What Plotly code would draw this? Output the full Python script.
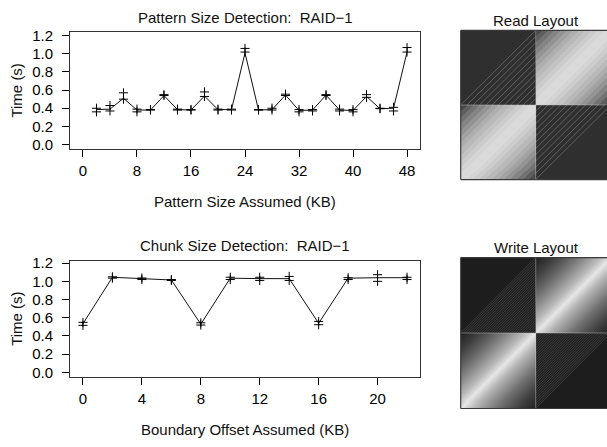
import numpy as np
import plotly.graph_objects as go

# ---------------- line-chart data ----------------
# Pattern size detection, RAID-1: two timed trials and the summary line
pattern_kb = [2, 4, 6, 8, 10, 12, 14, 16, 18, 20, 22, 24,
              26, 28, 30, 32, 34, 36, 38, 40, 42, 44, 46, 48]
pattern_trial_a = [0.40, 0.43, 0.57, 0.39, 0.385, 0.55, 0.39, 0.385, 0.58, 0.39, 0.39, 1.06,
                   0.385, 0.40, 0.555, 0.385, 0.385, 0.55, 0.39, 0.385, 0.55, 0.40, 0.41, 1.07]
pattern_trial_b = [0.36, 0.37, 0.50, 0.36, 0.38, 0.54, 0.38, 0.38, 0.53, 0.38, 0.38, 1.02,
                   0.38, 0.38, 0.54, 0.36, 0.37, 0.54, 0.37, 0.36, 0.52, 0.395, 0.37, 1.02]
pattern_line = [0.385, 0.39, 0.51, 0.38, 0.38, 0.54, 0.385, 0.38, 0.535, 0.385, 0.385, 1.01,
                0.38, 0.385, 0.545, 0.375, 0.38, 0.545, 0.38, 0.375, 0.53, 0.395, 0.40, 1.02]
pattern_ticks = [0, 8, 16, 24, 32, 40, 48]

# Chunk size detection, RAID-1
chunk_kb = [0, 2, 4, 6, 8, 10, 12, 14, 16, 18, 20, 22]
chunk_trial_a = [0.55, 1.05, 1.037, 1.02, 0.545, 1.045, 1.045, 1.054, 0.56, 1.04, 1.073, 1.045]
chunk_trial_b = [0.517, 1.035, 1.02, 1.01, 0.52, 1.02, 1.01, 1.01, 0.524, 1.02, 1.00, 1.02]
chunk_line = [0.535, 1.045, 1.03, 1.015, 0.53, 1.035, 1.03, 1.03, 0.54, 1.035, 1.04, 1.04]
chunk_ticks = [0, 4, 8, 12, 16, 20]

time_ticks = [0.0, 0.2, 0.4, 0.6, 0.8, 1.0, 1.2]

# ---------------- layout-map data ----------------
# Grey level of each distance band away from the diagonal (read layout)
read_levels = [218, 212, 204, 195, 185, 174, 162, 148, 132, 114, 94, 74]
read_background = 47
# Grey level against distance from the diagonal (write layout, smooth)
write_dist = [0.0, 0.05, 0.15, 0.30, 0.45, 0.60, 0.75, 0.90, 1.0]
write_grey = [230, 215, 185, 150, 118, 90, 64, 44, 32]
write_background = 29
# Faint band edges seen in the cross-disk triangles
read_hatch = [k / 12 for k in range(1, 13)]
write_hatch = [k / 30 for k in range(1, 31)]

W, H = 607, 447
FONT = "Liberation Sans, Arial, Helvetica, sans-serif"


def px_x(p):
    return p / W


def px_y(p):
    return 1 - p / H


fig = go.Figure()

# ---- line charts ----
def add_trials(x, a, b, line, xa, ya):
    fig.add_trace(go.Scatter(x=x, y=line, mode="lines", xaxis=xa, yaxis=ya,
                             line=dict(color="#111", width=1), showlegend=False,
                             hoverinfo="skip"))
    for t in (a, b):
        fig.add_trace(go.Scatter(x=x, y=t, mode="markers", xaxis=xa, yaxis=ya,
                                 marker=dict(symbol="cross-thin", size=6.5,
                                             line=dict(color="#000", width=1)),
                                 showlegend=False))


add_trials(pattern_kb, pattern_trial_a, pattern_trial_b, pattern_line, "x", "y")
add_trials(chunk_kb, chunk_trial_a, chunk_trial_b, chunk_line, "x2", "y2")

# ---- layout heat maps ----
N = 150
centres = (np.arange(N) + 0.5) / (N / 2)          # 0..2, one unit per disk half
U, V = np.meshgrid(centres, centres)
same_half = (U < 1) == (V < 1)
dist = np.where(same_half, np.abs(U - V), 2.0)


def grey(g):
    return f"rgb({g},{g},{g})"


def stepped_scale(levels, bg):
    n = len(levels)
    scale = []
    for k, g in enumerate(levels):
        lo, hi = k / n * 0.5, (k + 1) / n * 0.5
        scale += [[lo, grey(g)], [hi, grey(g)]]
    scale += [[0.5, grey(bg)], [1.0, grey(bg)]]
    return scale


def smooth_scale(dists, greys, bg):
    scale = [[d * 0.5, grey(g)] for d, g in zip(dists, greys)]
    scale += [[0.5001, grey(bg)], [1.0, grey(bg)]]
    return scale


fig.add_trace(go.Heatmap(z=dist, x=centres, y=centres, xaxis="x3", yaxis="y3",
                         colorscale=stepped_scale(read_levels, read_background),
                         zmin=0, zmax=2, showscale=False, zsmooth=False,
                         hoverinfo="skip"))
fig.add_trace(go.Heatmap(z=dist, x=centres, y=centres, xaxis="x4", yaxis="y4",
                         colorscale=smooth_scale(write_dist, write_grey, write_background),
                         zmin=0, zmax=2, showscale=False, zsmooth=False,
                         hoverinfo="skip"))


def hatch_xy(offsets):
    xs, ys = [], []
    for c in offsets:
        # upper-left quadrant: v - u = c
        xs += [1 - c, 1, None]
        ys += [1, 1 + c, None]
        # lower-right quadrant: u - v = c
        xs += [1, 1 + c, None]
        ys += [1 - c, 1, None]
    return xs, ys


for offs, xa, ya, col in ((read_hatch, "x3", "y3", "rgba(255,255,255,0.3)"),
                          (write_hatch, "x4", "y4", "rgba(255,255,255,0.18)")):
    hx, hy = hatch_xy(offs)
    fig.add_trace(go.Scatter(x=hx, y=hy, mode="lines", xaxis=xa, yaxis=ya,
                             line=dict(color=col, width=0.8), showlegend=False,
                             hoverinfo="skip", cliponaxis=True))
    fig.add_trace(go.Scatter(x=[0, 2, None, 1, 1], y=[1, 1, None, 0, 2], mode="lines",
                             xaxis=xa, yaxis=ya,
                             line=dict(color="rgba(200,200,200,0.45)", width=1),
                             showlegend=False, hoverinfo="skip", cliponaxis=True))

# ---- axes ----
line_axis = dict(showline=True, mirror=True, linecolor="#333", linewidth=1,
                 showgrid=False, zeroline=False, ticks="outside", ticklen=7,
                 tickwidth=1, tickcolor="#000",
                 tickfont=dict(family=FONT, size=15, color="#000"))

top_dom_y = [px_y(146), px_y(27)]
bot_dom_y = [px_y(379), px_y(260.7)]
left_dom_x = [px_x(70), px_x(420)]

fig.update_layout(
    width=W, height=H, margin=dict(l=0, r=0, t=0, b=0),
    paper_bgcolor="white", plot_bgcolor="white",
    xaxis=dict(line_axis, domain=left_dom_x, anchor="y", range=[-1.92, 49.92],
               tickvals=pattern_ticks, ticklabelstandoff=1),
    yaxis=dict(line_axis, domain=top_dom_y, anchor="x", range=[-0.047, 1.237],
               tickvals=time_ticks, ticktext=[f"{v:.1f}" for v in time_ticks],
               ticklabelstandoff=6),
    xaxis2=dict(line_axis, domain=left_dom_x, anchor="y2", range=[-0.88, 22.88],
                tickvals=chunk_ticks, ticklabelstandoff=1),
    yaxis2=dict(line_axis, domain=bot_dom_y, anchor="x2", range=[-0.045, 1.225],
                tickvals=time_ticks, ticktext=[f"{v:.1f}" for v in time_ticks],
                ticklabelstandoff=6),
    xaxis3=dict(domain=[px_x(460.7), 1.0], anchor="y3", range=[0, 146.3 / 75],
                visible=False, fixedrange=True),
    yaxis3=dict(domain=[px_y(177.5), px_y(25)], anchor="x3", range=[0, 2],
                visible=False, fixedrange=True),
    xaxis4=dict(domain=[px_x(460.7), 1.0], anchor="y4", range=[0, 146.3 / 75],
                visible=False, fixedrange=True),
    yaxis4=dict(domain=[px_y(411.7), px_y(257.3)], anchor="x4", range=[0, 2],
                visible=False, fixedrange=True),
)

# heat-map frames (left, top and bottom edges)
for top, bot in ((25, 177.5), (257.3, 411.7)):
    for x0, y0, x1, y1 in ((460.7, top, 460.7, bot), (460.7, top, W, top),
                           (460.7, bot, W, bot)):
        fig.add_shape(type="line", xref="paper", yref="paper",
                      x0=px_x(x0), y0=px_y(y0), x1=px_x(x1), y1=px_y(y1),
                      line=dict(color="#3a3a3a", width=1.2))


def label(text, x, y, angle=0):
    fig.add_annotation(text=text, x=px_x(x), y=px_y(y), xref="paper", yref="paper",
                       showarrow=False, xanchor="center", yanchor="middle",
                       textangle=angle, font=dict(family=FONT, size=15, color="#111"))


label("Pattern Size Detection:\u00a0 RAID\u22121", 245, 12)
label("Pattern Size Assumed (KB)", 245, 200)
label("Time (s)", 17, 86.5, -90)
label("Chunk Size Detection:\u00a0 RAID\u22121", 245, 245)
label("Boundary Offset Assumed (KB)", 245, 433)
label("Time (s)", 17, 320, -90)
label("Read Layout", 536, 15)
label("Write Layout", 536, 246.7)

fig.write_html("out.html")
